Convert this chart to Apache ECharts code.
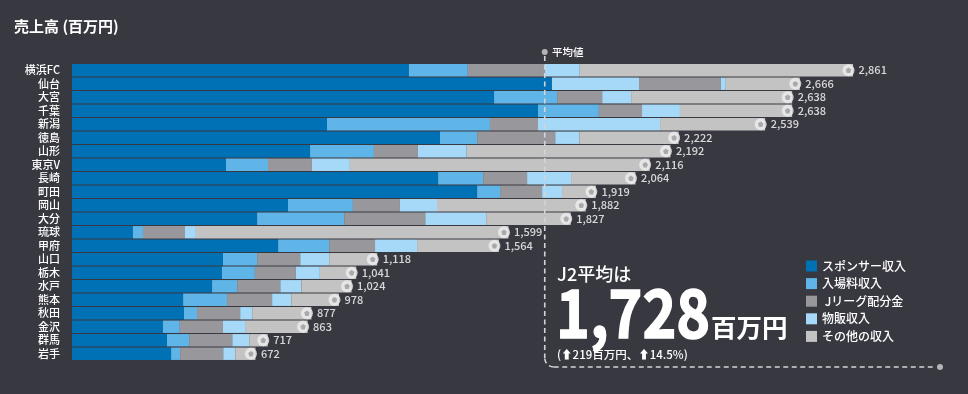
<!DOCTYPE html>
<html><head><meta charset="utf-8">
<style>html,body{margin:0;padding:0;background:#383841}#c{width:968px;height:394px}</style>
<script src="https://cdn.jsdelivr.net/npm/echarts@6/dist/echarts.min.js"></script>
</head><body><div id="c"></div>
<script>
const categories = ['横浜FC','仙台','大宮','千葉','新潟','徳島','山形','東京V','長崎','町田','岡山','大分','琉球','甲府','山口','栃木','水戸','熊本','秋田','金沢','群馬','岩手'];
const sponsor = [1234,1758,1546,1707,934,1348,872,564,1341,1484,791,678,223,755,553,549,513,407,410,333,348,363];
const ticket  = [216,319,231,223,597,136,234,154,165,84,238,319,37,187,125,121,92,161,48,62,81,33];
const jleague = [282,300,165,158,176,286,161,161,161,154,172,297,154,168,158,150,158,165,158,158,158,158];
const goods   = [128,18,106,139,447,88,179,139,161,73,136,223,40,154,106,88,77,70,44,84,62,44];
const other   = [1001,271,590,411,385,364,746,1098,236,124,545,310,1145,300,176,133,184,175,217,226,68,74];
const totals  = [2861,2666,2638,2638,2539,2222,2192,2116,2064,1919,1882,1827,1599,1564,1118,1041,1024,978,877,863,717,672];
const average = 1728;
const seriesNames = ['スポンサー収入','入場料収入',' Jリーグ配分金','物販収入','その他の収入'];
const seriesColors = ['#0071b4','#5fb4e8','#98989c','#a6d9f7','#c3c3c3'];
const font = '"Noto Sans CJK JP","Noto Sans",sans-serif';
const fmt = v => v.toLocaleString('en-US');

const chart = echarts.init(document.getElementById('c'), null, {renderer:'canvas'});
const bars = [sponsor,ticket,jleague,goods,other].map((vals,i)=>({
  name: seriesNames[i], type:'bar', stack:'t', barWidth:12.4, silent:true,
  itemStyle:{color:seriesColors[i]},
  // 仙台's second segment is drawn in the lighter blue in the reference
  data: vals.map((v,j)=> (i===1 && j===1) ? {value:v,itemStyle:{color:seriesColors[3]}} : v)
}));
const pts = totals.map((v,i)=>[v,i]);
chart.setOption({
  animation:false,
  backgroundColor:'#383841',
  textStyle:{fontFamily:font},
  title:{text:'売上高 (百万円)',left:14,top:19,padding:0,textStyle:{color:'#fff',fontSize:15,fontWeight:'bold',fontFamily:font}},
  grid:{left:72,top:63.5,width:819,height:297,containLabel:false},
  xAxis:{type:'value',min:0,max:3000,show:false},
  yAxis:{type:'category',inverse:true,data:categories,axisLine:{show:false},axisTick:{show:false},
    axisLabel:{color:'#fff',fontSize:11,fontWeight:500,margin:12,fontFamily:font,interval:0}},
  legend:{data:seriesNames,orient:'vertical',left:806,top:260,itemWidth:11,itemHeight:11,itemGap:5.6,icon:'rect',
    padding:0,selectedMode:false,textStyle:{color:'#fff',fontSize:12,fontWeight:500,fontFamily:font}},
  series:[...bars,
    {type:'scatter',name:'ball',data:pts,symbol:'circle',symbolSize:12,symbolOffset:[-4.5,0],silent:true,z:5,
      itemStyle:{color:'#efefef'},
      label:{show:true,position:'right',distance:4,color:'#fff',fontSize:11,fontWeight:500,fontFamily:font,
        formatter:p=>fmt(p.value[0])}},
    {type:'scatter',name:'ball2',data:pts,symbol:'path://M5 0L10 3.6L8 10H2L0 3.6Z',symbolSize:5.5,symbolOffset:[-4.5,0],silent:true,z:6,
      itemStyle:{color:'#9a9a9e'}}
  ]
});
const ax = chart.convertToPixel({xAxisIndex:0},average)+1;
const txt = (x,y,text,size,weight)=>({type:'text',x,y,silent:true,z:20,
  style:{text,fill:'#fff',font:`${weight||'normal'} ${size}px ${font}`,verticalAlign:'middle'}});
const dash = {fill:'none',stroke:'#d4d4d8',lineWidth:1.6,lineDash:[5,3.5]};
const big = txt(556,313,'1,728',66,'bold');
big.scaleX = 0.87;
big.style.stroke = '#fff';
big.style.lineWidth = 1.5;
chart.setOption({graphic:[
  {type:'line',silent:true,z:15,shape:{x1:ax,y1:56,x2:ax,y2:358},style:dash},
  {type:'arc',silent:true,z:15,shape:{cx:ax+9,cy:358,r:9,startAngle:Math.PI/2,endAngle:Math.PI,clockwise:true},style:dash},
  {type:'line',silent:true,z:15,shape:{x1:ax+9,y1:367,x2:936,y2:367},style:dash},
  {type:'circle',silent:true,z:16,shape:{cx:ax,cy:52,r:3},style:{fill:'#b4b4b8'}},
  {type:'circle',silent:true,z:16,shape:{cx:940,cy:367,r:3},style:{fill:'#b4b4b8'}},
  txt(552,52,'平均値',10.5,500),
  txt(557,274,'J2平均は',18,500),
  big,
  txt(711,327,'百万円',25.5,'bold'),
  txt(557,355,'(⬆219百万円、⬆14.5%)',11.5,500)
]});
</script></body></html>
